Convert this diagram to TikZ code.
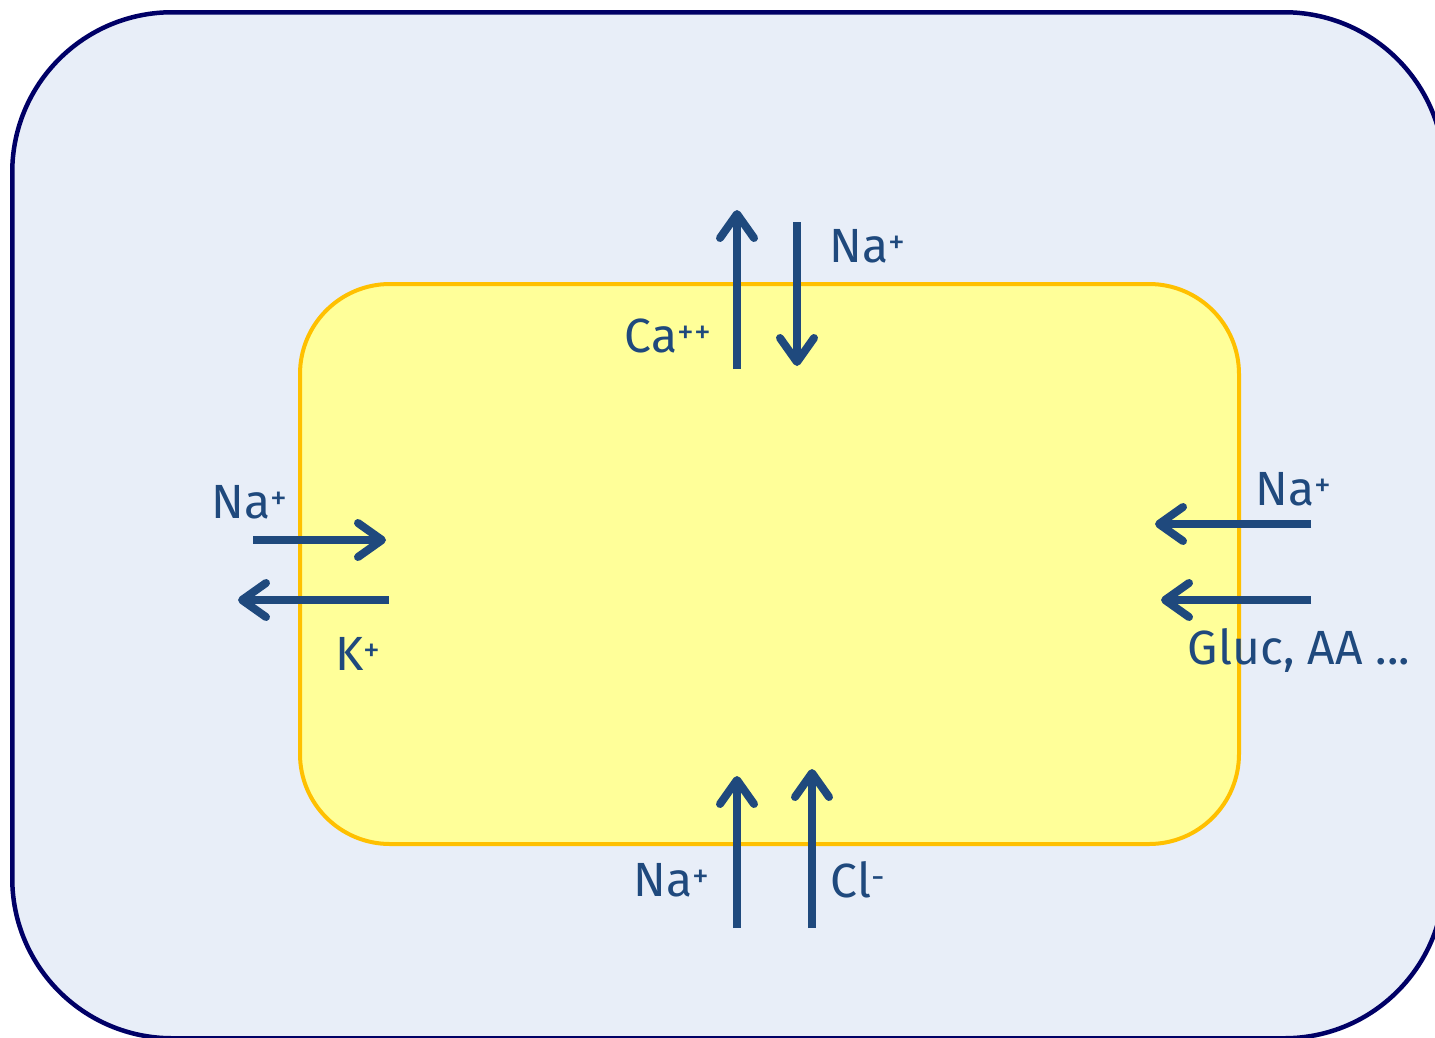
\documentclass[tikz,border=0pt]{standalone}
\usepackage{fontspec}
\setmainfont{Fira Sans}
\usetikzlibrary{arrows.meta}
\definecolor{bgblue}{HTML}{E8EEF8}
\definecolor{navy}{HTML}{000066}
\definecolor{cellyellow}{HTML}{FFFF99}
\definecolor{cellborder}{HTML}{FFC000}
\definecolor{ion}{HTML}{1F497D}
\begin{document}
\begin{tikzpicture}[x=1pt,y=-1pt,
  flux/.style={draw=ion,line width=8pt,-{Straight Barb[length=24pt,width=34pt,line cap=round,line join=round]}},
  ionlabel/.style={text=ion,font=\fontsize{48}{52}\selectfont,inner sep=0pt,anchor=center}]
\useasboundingbox (0,0) rectangle (1435,1037);
\begin{scope}
\clip (0,0) rectangle (1435,1037);
\node (outer) [draw=navy,fill=bgblue,line width=4.5pt,rounded corners=160pt,minimum width=1432pt,minimum height=1026pt,inner sep=0pt,anchor=north west] at (10,10) {};
\end{scope}
\node (cell) [draw=cellborder,fill=cellyellow,line width=4pt,rounded corners=90pt,minimum width=939pt,minimum height=560pt,inner sep=0pt,anchor=north west] at (298,282) {};
% coordinates
\coordinate (caS) at (737,369); \coordinate (caE) at (737,210);
\coordinate (naTS) at (797,222); \coordinate (naTE) at (797,366);
\coordinate (naLS) at (253,540); \coordinate (naLE) at (386,540);
\coordinate (kS) at (389,600); \coordinate (kE) at (238,600);
\coordinate (naRS) at (1311,524); \coordinate (naRE) at (1155,524);
\coordinate (glS) at (1311,600); \coordinate (glE) at (1161,600);
\coordinate (naBS) at (737,928); \coordinate (naBE) at (737,776);
\coordinate (clS) at (812,928); \coordinate (clE) at (812,769);
\draw[flux] (caS) -- (caE);
\draw[flux] (naTS) -- (naTE);
\draw[flux] (naLS) -- (naLE);
\draw[flux] (kS) -- (kE);
\draw[flux] (naRS) -- (naRE);
\draw[flux] (glS) -- (glE);
\draw[flux] (naBS) -- (naBE);
\draw[flux] (clS) -- (clE);
% labels
\node (lNaT) [ionlabel] at (868,246) {Na\textsuperscript{+}};
\node (lCa) [ionlabel] at (668,336) {Ca\textsuperscript{++}};
\node (lNaL) [ionlabel] at (250,502) {Na\textsuperscript{+}};
\node (lK) [ionlabel] at (358,654) {K\textsuperscript{+}};
\node (lNaR) [ionlabel] at (1294,489) {Na\textsuperscript{+}};
\node (lGl) [ionlabel] at (1299,650) {Gluc, AA ...};
\node (lNaB) [ionlabel] at (672,880) {Na\textsuperscript{+}};
\node (lCl) [ionlabel] at (858,880) {Cl\textsuperscript{-}};
\end{tikzpicture}
\end{document}
